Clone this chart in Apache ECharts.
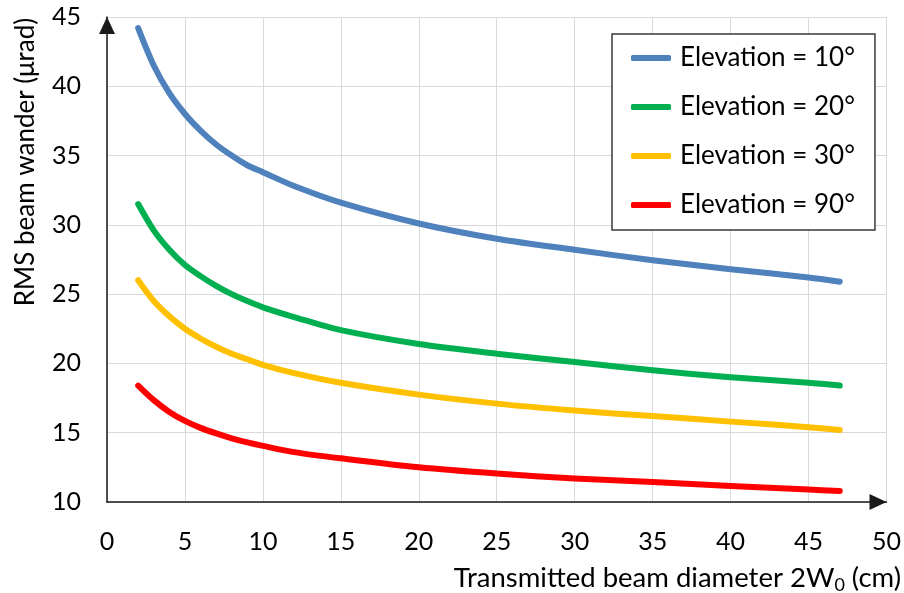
<!DOCTYPE html>
<html>
<head>
<meta charset="utf-8">
<script src="https://cdn.jsdelivr.net/npm/echarts@6/dist/echarts.min.js"></script>
<style>
  html, body { margin: 0; padding: 0; background: #fff; }
  #chart { width: 904px; height: 593px; }
</style>
</head>
<body>
<div id="chart"></div>
<script>
// Transmitted beam diameter 2W0 (cm)
const diameters = [2, 3, 4, 5, 6, 7, 8, 9, 10, 12, 15, 20, 25, 30, 35, 40, 45, 47];

// RMS beam wander (µrad) per elevation angle
const elev10 = [44.2, 41.5, 39.5, 38.0, 36.8, 35.8, 35.0, 34.3, 33.8, 32.8, 31.6, 30.1, 29.0, 28.2, 27.45, 26.8, 26.2, 25.9];
const elev20 = [31.5, 29.6, 28.2, 27.1, 26.3, 25.6, 25.0, 24.5, 24.05, 23.35, 22.4, 21.4, 20.7, 20.1, 19.5, 19.0, 18.6, 18.4];
const elev30 = [26.0, 24.5, 23.4, 22.5, 21.8, 21.2, 20.7, 20.3, 19.9, 19.3, 18.6, 17.75, 17.1, 16.6, 16.2, 15.8, 15.4, 15.2];
const elev90 = [18.4, 17.35, 16.5, 15.85, 15.35, 14.95, 14.6, 14.3, 14.05, 13.6, 13.15, 12.5, 12.05, 11.7, 11.45, 11.15, 10.9, 10.8];

const seriesNames = ['Elevation = 10°', 'Elevation = 20°', 'Elevation = 30°', 'Elevation = 90°'];
const seriesValues = [elev10, elev20, elev30, elev90];
const seriesColors = ['#4F81BD', '#00B050', '#FFC000', '#FF0000'];

const xAxisTitle = 'Transmitted beam diameter 2W{sub|0} (cm)';
const yAxisTitle = 'RMS beam wander (μrad)';

const FONT = 'Lato';

const chart = echarts.init(document.getElementById('chart'), null, { renderer: 'canvas' });

const axisLineStyle = { color: '#1a1a1a', width: 1.5 };
const gridLineStyle = { color: '#D9D9D9', width: 1 };
// solid triangular arrow heads, tip sitting on the axis end
const arrowLine = { symbol: ['none', 'triangle'], symbolSize: [16, 17], symbolOffset: [0, -8.5] };

const option = {
  backgroundColor: '#ffffff',
  animation: false,
  textStyle: { fontFamily: FONT },
  grid: { left: 107, right: 15, top: 17, bottom: 91, containLabel: false },
  xAxis: {
    type: 'value',
    min: 0, max: 50, interval: 5,
    axisLine: Object.assign({ show: true, lineStyle: axisLineStyle }, arrowLine),
    axisTick: { show: false },
    axisLabel: { color: '#000', fontSize: 25, fontFamily: FONT, margin: 27 },
    splitLine: { show: true, lineStyle: gridLineStyle }
  },
  yAxis: {
    type: 'value',
    min: 10, max: 45, interval: 5,
    axisLine: Object.assign({ show: true, lineStyle: axisLineStyle }, arrowLine),
    axisTick: { show: false },
    axisLabel: { color: '#000', fontSize: 25, fontFamily: FONT, margin: 26 },
    splitLine: { show: true, lineStyle: gridLineStyle }
  },
  legend: {
    orient: 'vertical',
    left: 612,
    top: 34,
    data: seriesNames,
    icon: 'roundRect',
    itemWidth: 40,
    itemHeight: 6,
    itemGap: 19,
    padding: [9, 20, 10, 19],
    backgroundColor: '#ffffff',
    borderColor: '#3a3a3a',
    borderWidth: 1.5,
    textStyle: { color: '#000', fontSize: 26, lineHeight: 30, fontFamily: FONT, padding: [0, 0, 0, 4] }
  },
  graphic: [
    {
      type: 'text',
      x: 26,
      y: 162,
      rotation: Math.PI / 2,
      style: {
        text: yAxisTitle,
        font: '26px "' + FONT + '"',
        fill: '#000',
        align: 'center',
        verticalAlign: 'middle'
      }
    },
    {
      type: 'text',
      x: 901,
      y: 578,
      style: {
        text: xAxisTitle,
        font: '27.5px "' + FONT + '"',
        fill: '#000',
        align: 'right',
        verticalAlign: 'middle',
        rich: {
          sub: { fontSize: 18, fontFamily: FONT, fill: '#000', padding: [15, 0, 0, 0] }
        }
      }
    }
  ],
  series: seriesNames.map((name, i) => ({
    name: name,
    type: 'line',
    smooth: 0.3,
    showSymbol: false,
    symbol: 'none',
    color: seriesColors[i],
    lineStyle: { width: 6, color: seriesColors[i], cap: 'round', join: 'round' },
    data: diameters.map((d, j) => [d, seriesValues[i][j]])
  }))
};

chart.setOption(option);
</script>
</body>
</html>
